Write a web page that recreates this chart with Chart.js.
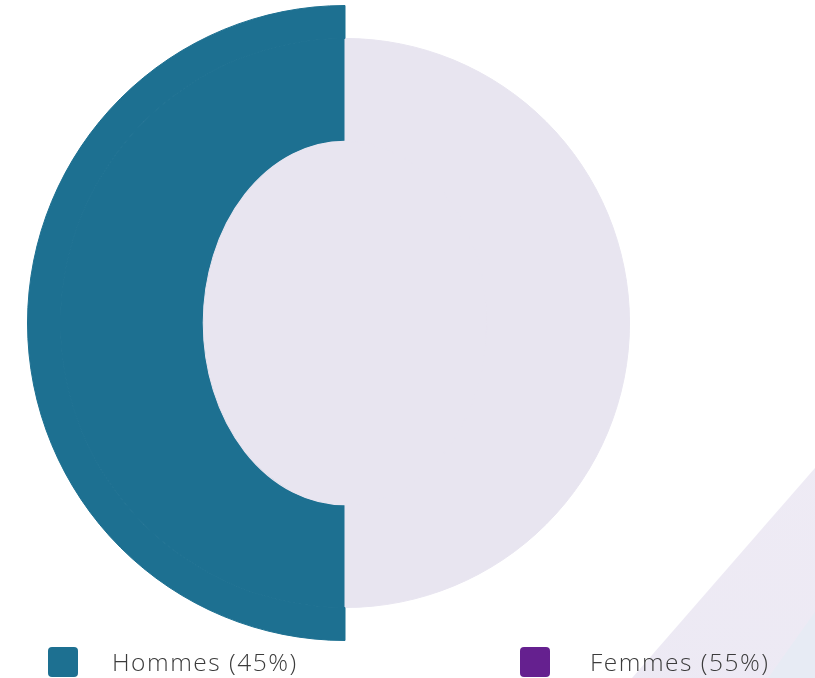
<!DOCTYPE html>
<html>
<head>
<meta charset="utf-8">
<script src="https://cdn.jsdelivr.net/npm/chart.js@4.4.0/dist/chart.umd.min.js"></script>
<style>
    html, body { margin: 0; padding: 0; background: #fff; }
    #wrap { position: relative; width: 815px; height: 678px; overflow: hidden; font-family: "Open Sans", sans-serif; }
    .deco1 { position: absolute; left: 0; top: 0; width: 815px; height: 678px;
             background: linear-gradient(200deg, #f1edf6, #ebe8f3);
             clip-path: polygon(815px 468px, 815px 678px, 632px 678px); }
    .deco2 { position: absolute; left: 0; top: 0; width: 815px; height: 678px;
             background: #e7ebf4;
             clip-path: polygon(815px 612px, 815px 678px, 768px 678px); }
    #chartBox { position: absolute; left: 0; top: 0; width: 815px; height: 646px; }
    #legend { position: absolute; left: 0; top: 646px; width: 815px; height: 32px; }
    .box { position: absolute; top: 1px; width: 30px; height: 30px; border-radius: 4px; }
    .lbl { position: absolute; top: 0; font-size: 24.5px; line-height: 32px; color: #3b3b3b;
           white-space: nowrap; font-weight: 300; letter-spacing: 1.5px; }
</style>
</head>
<body>
<div id="wrap">
    <div class="deco1"></div>
    <div class="deco2"></div>
    <div id="chartBox"><canvas id="chart"></canvas></div>
    <div id="legend"></div>
</div>
<script>
    const labels = ['Hommes (45%)', 'Femmes (55%)'];
    const legendColors = ['#1d7091', '#65208f'];
    // angular share of each slice as drawn
    const shares = [50, 50];
    // colours of the three rings, outside to inside
    const outerRing = ['#1d7091', 'rgba(0,0,0,0)'];
    const middleRing = ['#1d7091', '#e8e5f0'];
    const innerRing = ['#e8e5f0', '#e8e5f0'];
    const ringWeights = [33, 143, 142];
    const holeStretchY = 182 / 142; // the hole is an upright ellipse

    // stretch the innermost ring vertically so the hole is oval
    const ovalHole = {
        id: 'ovalHole',
        beforeDatasetDraw(chart, args) {
            if (args.index !== 2) return;
            const arc = args.meta.data[0];
            const c = chart.ctx;
            c.save();
            c.translate(arc.x, arc.y);
            c.scale(1, holeStretchY);
            c.translate(-arc.x, -arc.y);
        },
        afterDatasetDraw(chart, args) {
            if (args.index === 2) chart.ctx.restore();
        }
    };

    const ctx = document.getElementById('chart').getContext('2d');
    new Chart(ctx, {
        type: 'doughnut',
        data: {
            labels: labels,
            datasets: [outerRing, middleRing, innerRing].map((colors, i) => ({
                data: shares,
                backgroundColor: colors,
                borderColor: colors,
                borderWidth: 1,
                weight: ringWeights[i],
                order: i === 2 ? -1 : i
            }))
        },
        options: {
            responsive: true,
            maintainAspectRatio: false,
            animation: false,
            events: [],
            rotation: 180,
            cutout: 0,
            layout: { padding: { top: 5, right: 125, bottom: 5, left: 0 } },
            plugins: {
                legend: { display: false },
                tooltip: { enabled: false }
            }
        },
        plugins: [ovalHole]
    });

    // legend row under the chart
    const boxLefts = [48, 520];
    const textLefts = [112, 590];
    const legend = document.getElementById('legend');
    labels.forEach((text, i) => {
        const box = document.createElement('div');
        box.className = 'box';
        box.style.left = boxLefts[i] + 'px';
        box.style.background = legendColors[i];
        const lbl = document.createElement('div');
        lbl.className = 'lbl';
        lbl.style.left = textLefts[i] + 'px';
        lbl.textContent = text;
        legend.appendChild(box);
        legend.appendChild(lbl);
    });
</script>
</body>
</html>
